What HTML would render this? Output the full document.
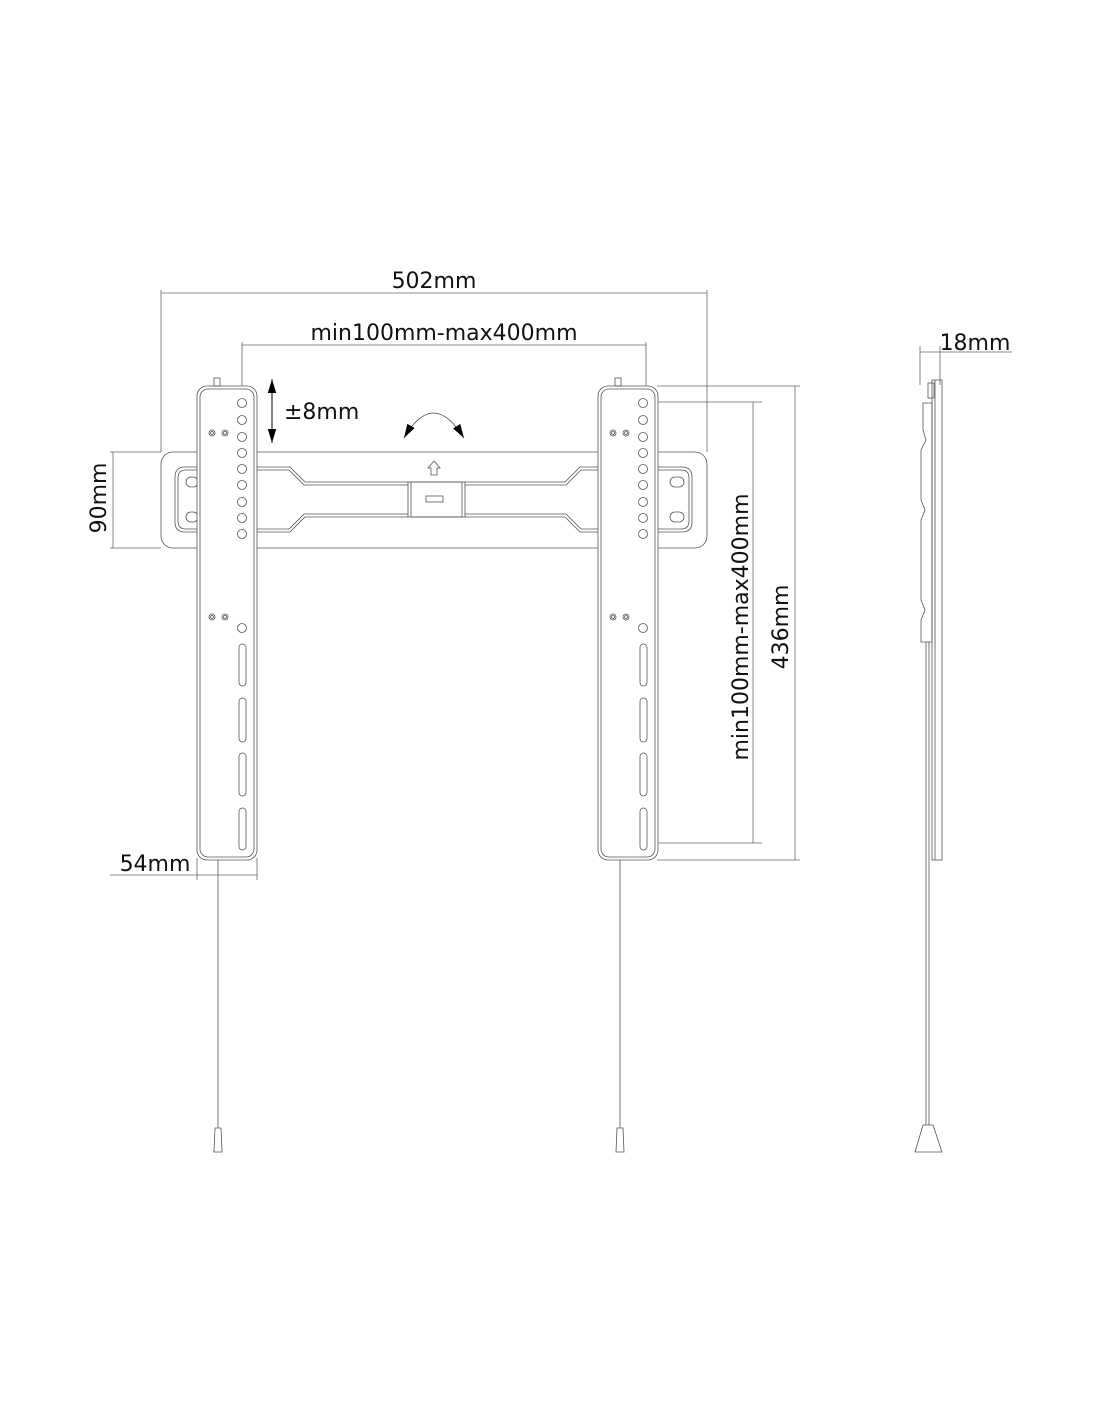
<!DOCTYPE html>
<html><head><meta charset="utf-8"><style>
html,body{margin:0;padding:0;background:#fff}
svg{display:block}
text{font-family:"DejaVu Sans","Liberation Sans",sans-serif;fill:#111}
</style></head><body>
<svg width="1100" height="1422" viewBox="0 0 1100 1422" xmlns="http://www.w3.org/2000/svg">
<defs>
<marker id="ah" viewBox="0 0 10 10" refX="10" refY="5" markerWidth="10" markerHeight="10" orient="auto-start-reverse"><path d="M0,1.5 L10,5 L0,8.5 Z" fill="#000"/></marker>
<marker id="ah2" viewBox="0 0 10 10" refX="10" refY="5" markerWidth="14" markerHeight="14" markerUnits="userSpaceOnUse" orient="auto-start-reverse"><path d="M0,2 L10,5 L0,8 Z" fill="#000"/></marker>
<g id="bracket" stroke="#555" stroke-width="0.8">
  <rect x="0" y="0" width="60" height="474" rx="10" fill="#fff"/>
  <g fill="none">
  <rect x="3" y="3" width="54" height="468" rx="8"/>
  <rect x="17" y="-8" width="6" height="8"/>
    <circle cx="45" cy="17" r="4.5"/><circle cx="45" cy="34" r="4.5"/><circle cx="45" cy="51" r="4.5"/>
    <circle cx="45" cy="67" r="4.5"/><circle cx="45" cy="83" r="4.5"/><circle cx="45" cy="99" r="4.5"/>
    <circle cx="45" cy="116" r="4.5"/><circle cx="45" cy="132" r="4.5"/><circle cx="45" cy="148" r="4.5"/>
    <circle cx="15" cy="47" r="3"/><circle cx="15" cy="47" r="1.5"/><circle cx="28" cy="47" r="3"/><circle cx="28" cy="47" r="1.5"/>
    <circle cx="15" cy="231" r="3"/><circle cx="15" cy="231" r="1.5"/><circle cx="28" cy="231" r="3"/><circle cx="28" cy="231" r="1.5"/>
    <circle cx="45" cy="242" r="4.5"/>
    <rect x="42" y="258" width="7" height="42" rx="3.5"/>
    <rect x="42" y="312" width="7" height="44" rx="3.5"/>
    <rect x="42" y="367" width="7" height="43" rx="3.5"/>
    <rect x="42" y="422" width="7" height="42" rx="3.5"/>
  </g>
</g>
</defs>

<g stroke="#666" stroke-width="0.8" fill="none">
  <line x1="161" y1="290" x2="161" y2="452"/>
  <line x1="707" y1="290" x2="707" y2="452"/>
  <line x1="161" y1="293" x2="707" y2="293"/>
  <line x1="242" y1="342" x2="242" y2="395"/>
  <line x1="646" y1="342" x2="646" y2="395"/>
  <line x1="242" y1="345" x2="646" y2="345"/>
  <line x1="110" y1="452" x2="161" y2="452"/>
  <line x1="110" y1="548" x2="161" y2="548"/>
  <line x1="113" y1="452" x2="113" y2="548"/>
  <line x1="110" y1="875" x2="257" y2="875"/>
  <line x1="197" y1="858" x2="197" y2="880"/>
  <line x1="257" y1="858" x2="257" y2="880"/>
  <line x1="652" y1="402" x2="762" y2="402"/>
  <line x1="652" y1="843" x2="762" y2="843"/>
  <line x1="753" y1="402" x2="753" y2="843"/>
  <line x1="657" y1="386" x2="800" y2="386"/>
  <line x1="657" y1="860" x2="800" y2="860"/>
  <line x1="795" y1="386" x2="795" y2="860"/>
  <line x1="920" y1="346" x2="920" y2="385"/>
  <line x1="940" y1="346" x2="940" y2="385"/>
  <line x1="920" y1="352" x2="1012" y2="352"/>
</g>

<g fill="none" stroke="#555" stroke-width="0.8">
  <rect x="161" y="452" width="546" height="96" rx="12" fill="#fff"/>
  <path d="M257,467 L290,467 L305,482 L408,482 M465,482 L565,482 L580,467 L600,467"/>
  <path d="M257,470 L289,470 L304,485 L408,485 M465,485 L566,485 L581,470 L600,470"/>
  <path d="M257,532 L290,532 L305,517 L408,517 M465,517 L565,517 L580,532 L600,532"/>
  <path d="M257,529 L289,529 L304,514 L408,514 M465,514 L566,514 L581,529 L600,529"/>
  <path d="M200,467 L185,467 Q175,467 175,477 L175,522 Q175,532 185,532 L200,532"/>
  <path d="M200,470 L186,470 Q178,470 178,478 L178,521 Q178,529 186,529 L200,529"/>
  <path d="M657,467 L682,467 Q692,467 692,477 L692,522 Q692,532 682,532 L657,532"/>
  <path d="M657,470 L681,470 Q689,470 689,478 L689,521 Q689,529 681,529 L657,529"/>
  <rect x="186" y="477" width="12" height="10" rx="5"/><rect x="186" y="512" width="12" height="10" rx="5"/>
  <rect x="670" y="477" width="14" height="10" rx="5"/><rect x="670" y="512" width="14" height="10" rx="5"/>
  <rect x="408" y="482" width="57" height="35"/>
  <rect x="411" y="482" width="51" height="35"/>
  <rect x="426" y="496" width="17" height="6"/>
  <path d="M431,475 L431,468 L428,468 L434,461 L440,468 L437,468 L437,475 Z"/>
</g>

<use href="#bracket" x="197" y="386"/>
<use href="#bracket" x="598" y="386"/>

<g stroke="#555" stroke-width="0.8" fill="none">
  <line x1="218" y1="860" x2="218" y2="1128"/>
  <line x1="620" y1="860" x2="620" y2="1128"/>
  <path d="M215,1128 L221,1128 L222,1152 L214,1152 Z"/>
  <path d="M617,1128 L623,1128 L624,1152 L616,1152 Z"/>
</g>

<line x1="272" y1="379" x2="272" y2="443" stroke="#000" stroke-width="1" marker-start="url(#ah2)" marker-end="url(#ah2)"/>
<text x="284" y="419" font-size="22">±8mm</text>
<path d="M404,438 Q433,388 464,438" fill="none" stroke="#444" stroke-width="0.8" marker-start="url(#ah2)" marker-end="url(#ah2)"/>

<g stroke="#555" stroke-width="0.8" fill="none">
  <rect x="932" y="380" width="10" height="480"/>
  <line x1="935" y1="380" x2="935" y2="860"/>
  <rect x="928" y="383" width="6" height="15"/>
  <path d="M923,403 L932,403 L932,642 L921,642 L921,620 L925,610 L921,600 L921,520 L925,510 L921,500 L921,450 L926,440 L923,430 Z"/>
  <line x1="926" y1="642" x2="926" y2="1125"/>
  <line x1="929" y1="642" x2="929" y2="1125"/>
  <path d="M923,1125 L933,1125 L942,1152 L915,1152 Z"/>
</g>

<text x="434" y="288" font-size="22" text-anchor="middle">502mm</text>
<text x="444" y="340" font-size="22" text-anchor="middle">min100mm-max400mm</text>
<text x="975" y="350" font-size="22" text-anchor="middle">18mm</text>
<text x="155" y="871" font-size="22" text-anchor="middle">54mm</text>
<text transform="translate(106,498) rotate(-90)" font-size="22" text-anchor="middle">90mm</text>
<text transform="translate(748,627) rotate(-90)" font-size="22" text-anchor="middle">min100mm-max400mm</text>
<text transform="translate(788,627) rotate(-90)" font-size="22" text-anchor="middle">436mm</text>
</svg>
</body></html>
